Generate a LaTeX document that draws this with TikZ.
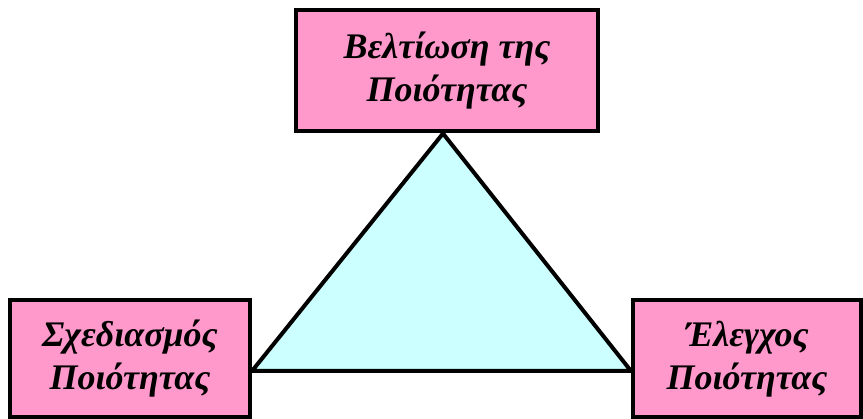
\documentclass[tikz,border=0pt]{standalone}
\usepackage{fontspec}
\setmainfont{Liberation Serif}
\usepackage{tikz}
\usetikzlibrary{positioning,calc,backgrounds}
\definecolor{Pink}{HTML}{FF99CC}
\definecolor{Ice}{HTML}{CCFFFF}

\begin{document}
\begin{tikzpicture}[x=1pt,y=-1pt,
    box/.style={draw=black,fill=Pink,line width=4pt,align=center,inner sep=0pt,font=\fontsize{36}{43}\selectfont\bfseries\itshape},
    tri/.style={draw=black,fill=Ice,line width=4pt,line join=miter}]
    \useasboundingbox (0,0) rectangle (863,419);
    \node[box,minimum width=302pt,minimum height=121pt] (improve) at (447,71) {Βελτίωση της\\Ποιότητας};
    \node[box,minimum width=240pt,minimum height=117pt] (plan) at (130,359) {Σχεδιασμός\\Ποιότητας};
    \node[box,minimum width=228pt,minimum height=117pt] (check) at (747,359) {Έλεγχος\\Ποιότητας};
    \coordinate (bl) at (plan.east |- 0,371);
    \coordinate (br) at (check.west |- 0,371);
    \begin{scope}[on background layer]
      \draw[tri] ($(improve.south)+(-4,0)$) -- (bl) -- (br) -- cycle;
    \end{scope}
  \end{tikzpicture}
\end{document}
